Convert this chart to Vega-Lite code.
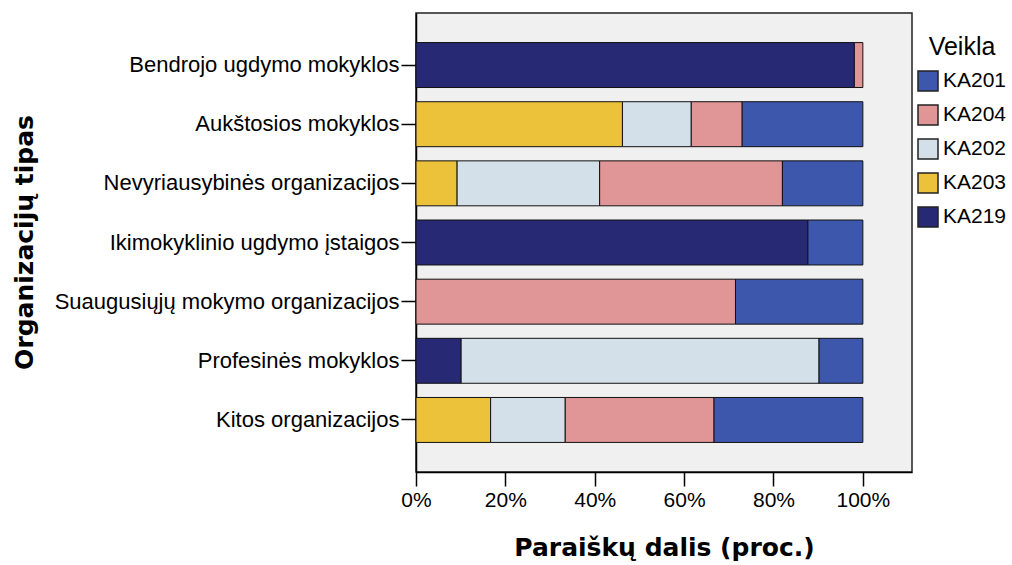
{
  "$schema": "https://vega.github.io/schema/vega-lite/v6.json",
  "width": 496,
  "height": 459,
  "autosize": {"type": "none"},
  "padding": {"left": 416, "top": 13, "right": 100, "bottom": 93},
  "background": "white",
  "config": {
    "view": {"stroke": "#222222", "strokeWidth": 1.5, "fill": "#f0f0f0"},
    "font": "Liberation Sans"
  },
  "data": {
    "values": [
      {"Tipas": "Bendrojo ugdymo mokyklos", "Veikla": "KA219", "Dalis": 98.1},
      {"Tipas": "Bendrojo ugdymo mokyklos", "Veikla": "KA204", "Dalis": 1.9},
      {"Tipas": "Aukštosios mokyklos", "Veikla": "KA203", "Dalis": 46.2},
      {"Tipas": "Aukštosios mokyklos", "Veikla": "KA202", "Dalis": 15.4},
      {"Tipas": "Aukštosios mokyklos", "Veikla": "KA204", "Dalis": 11.4},
      {"Tipas": "Aukštosios mokyklos", "Veikla": "KA201", "Dalis": 27.0},
      {"Tipas": "Nevyriausybinės organizacijos", "Veikla": "KA203", "Dalis": 9.2},
      {"Tipas": "Nevyriausybinės organizacijos", "Veikla": "KA202", "Dalis": 31.9},
      {"Tipas": "Nevyriausybinės organizacijos", "Veikla": "KA204", "Dalis": 40.9},
      {"Tipas": "Nevyriausybinės organizacijos", "Veikla": "KA201", "Dalis": 18.0},
      {"Tipas": "Ikimokyklinio ugdymo įstaigos", "Veikla": "KA219", "Dalis": 87.7},
      {"Tipas": "Ikimokyklinio ugdymo įstaigos", "Veikla": "KA201", "Dalis": 12.3},
      {"Tipas": "Suaugusiųjų mokymo organizacijos", "Veikla": "KA204", "Dalis": 71.5},
      {"Tipas": "Suaugusiųjų mokymo organizacijos", "Veikla": "KA201", "Dalis": 28.5},
      {"Tipas": "Profesinės mokyklos", "Veikla": "KA219", "Dalis": 10.1},
      {"Tipas": "Profesinės mokyklos", "Veikla": "KA202", "Dalis": 80.1},
      {"Tipas": "Profesinės mokyklos", "Veikla": "KA201", "Dalis": 9.8},
      {"Tipas": "Kitos organizacijos", "Veikla": "KA203", "Dalis": 16.7},
      {"Tipas": "Kitos organizacijos", "Veikla": "KA202", "Dalis": 16.7},
      {"Tipas": "Kitos organizacijos", "Veikla": "KA204", "Dalis": 33.3},
      {"Tipas": "Kitos organizacijos", "Veikla": "KA201", "Dalis": 33.3}
    ]
  },
  "transform": [
    {"window": [{"op": "row_number", "as": "eile"}]}
  ],
  "mark": {"type": "bar", "stroke": "#111111", "strokeWidth": 1},
  "encoding": {
    "y": {
      "field": "Tipas",
      "type": "nominal",
      "sort": null,
      "scale": {"paddingInner": 0.24, "paddingOuter": 0.5},
      "axis": {
        "title": "Organizacijų tipas",
        "titleFont": "DejaVu Sans",
        "titleFontWeight": "bold",
        "titleFontSize": 25,
        "titleColor": "#000000",
        "titleAngle": -90,
        "titleAlign": "center",
        "titleBaseline": "alphabetic",
        "titleX": -384,
        "titleY": 229,
        "labelFont": "Liberation Sans",
        "labelFontSize": 22,
        "labelColor": "#000000",
        "labelPadding": 2,
        "tickSize": 15,
        "tickColor": "#000000",
        "tickWidth": 1.5,
        "domainColor": "#000000",
        "domainWidth": 1.5,
        "labelLimit": 500
      }
    },
    "x": {
      "field": "Dalis",
      "type": "quantitative",
      "stack": "normalize",
      "scale": {"domain": [0, 1.11], "nice": false},
      "axis": {
        "title": "Paraiškų dalis (proc.)",
        "titleFont": "DejaVu Sans",
        "titleFontWeight": "bold",
        "titleFontSize": 25,
        "titleColor": "#000000",
        "titleAnchor": "middle",
        "titleBaseline": "alphabetic",
        "titleX": 248,
        "titleY": 83,
        "values": [0, 0.2, 0.4, 0.6, 0.8, 1.0],
        "format": ".0%",
        "grid": false,
        "labelFont": "Liberation Sans",
        "labelFontSize": 21,
        "labelColor": "#000000",
        "labelPadding": 3,
        "tickSize": 14,
        "tickColor": "#000000",
        "tickWidth": 1.5,
        "domainColor": "#000000",
        "domainWidth": 1.5,
        "labelFlush": false
      }
    },
    "color": {
      "field": "Veikla",
      "type": "nominal",
      "scale": {
        "domain": ["KA219", "KA203", "KA202", "KA204", "KA201"],
        "range": ["#272974", "#ecc23b", "#d3e0ea", "#e09597", "#3d57ac"]
      },
      "legend": {
        "values": ["KA201", "KA204", "KA202", "KA203", "KA219"],
        "orient": "none",
        "legendX": 501,
        "legendY": 22,
        "padding": 0,
        "title": "Veikla",
        "titleFont": "Liberation Sans",
        "titleFontSize": 25,
        "titleFontWeight": "normal",
        "titleColor": "#000000",
        "titleAnchor": "middle",
        "titlePadding": 10,
        "labelFont": "Liberation Sans",
        "labelFontSize": 21,
        "labelColor": "#000000",
        "labelOffset": 4,
        "symbolType": "square",
        "symbolSize": 400,
        "symbolStrokeColor": "#222222",
        "symbolStrokeWidth": 1.5,
        "symbolOpacity": 1,
        "rowPadding": 8
      }
    },
    "order": {"field": "eile", "type": "quantitative"}
  }
}
